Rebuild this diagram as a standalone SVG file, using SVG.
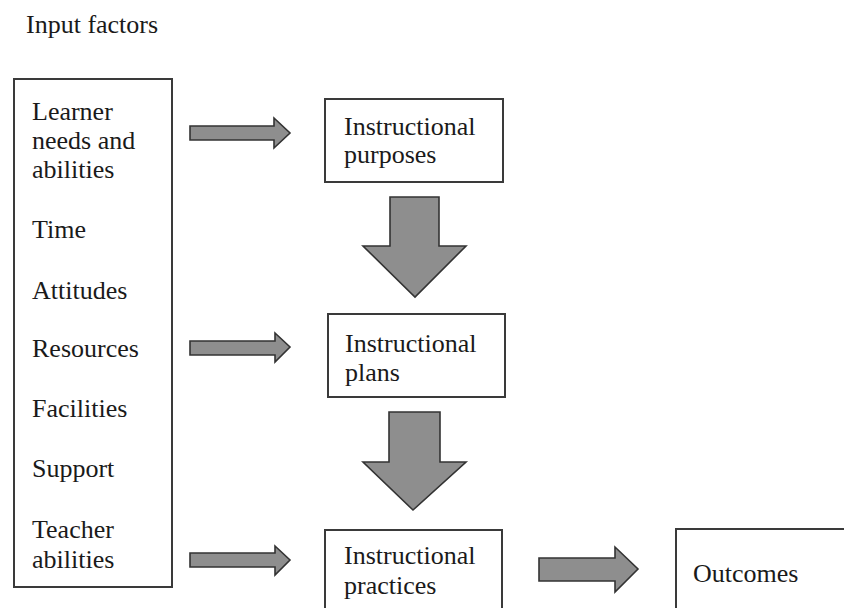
<svg xmlns="http://www.w3.org/2000/svg" width="844" height="608" viewBox="0 0 844 608">
<style>
.box{fill:#fff;stroke:#3a3a3a;stroke-width:2}
.t{font-family:"Liberation Serif","Times New Roman",serif;font-size:26px;fill:#1a1a1a}
.arr{fill:#8e8e8e;stroke:#333;stroke-width:1.6;stroke-linejoin:miter}
</style>
<rect width="844" height="608" fill="#fff"/>
<text class="t" x="26" y="33">Input factors</text>
<g id="input-factors">
<rect class="box" x="14" y="79" width="158" height="508"/>
<text class="t" x="32" y="120">Learner</text>
<text class="t" x="32" y="149">needs and</text>
<text class="t" x="32" y="178">abilities</text>
<text class="t" x="32" y="238">Time</text>
<text class="t" x="32" y="299">Attitudes</text>
<text class="t" x="32" y="357">Resources</text>
<text class="t" x="32" y="417">Facilities</text>
<text class="t" x="32" y="477">Support</text>
<text class="t" x="32" y="538">Teacher</text>
<text class="t" x="32" y="568">abilities</text>
</g>
<g id="instructional-purposes">
<rect class="box" x="325" y="99" width="178" height="83"/>
<text class="t" x="344" y="135">Instructional</text>
<text class="t" x="344" y="163">purposes</text>
</g>
<g id="instructional-plans">
<rect class="box" x="328" y="314" width="177" height="83"/>
<text class="t" x="345" y="352">Instructional</text>
<text class="t" x="345" y="381">plans</text>
</g>
<g id="instructional-practices">
<rect class="box" x="325" y="530" width="177" height="90"/>
<text class="t" x="344" y="564">Instructional</text>
<text class="t" x="344" y="594">practices</text>
</g>
<g id="outcomes">
<rect class="box" x="676" y="529" width="180" height="90"/>
<text class="t" x="693" y="582">Outcomes</text>
</g>
<g id="connectors">
<polygon class="arr" points="190,126 274,126 274,118 290,133 274,148 274,140 190,140"/>
<polygon class="arr" points="190,341 275,341 275,333 290,347 275,362 275,355 190,355"/>
<polygon class="arr" points="190,553 275,553 275,546 290,560 275,575 275,567 190,567"/>
<polygon class="arr" points="539,558 615,558 615,547 638,569 615,592 615,581 539,581"/>
<polygon class="arr" points="390,197 439,197 439,246 466,246 415,297 363,246 390,246"/>
<polygon class="arr" points="389,412 440,412 440,462 466,462 413,510 363,462 389,462"/>
</g>
</svg>
